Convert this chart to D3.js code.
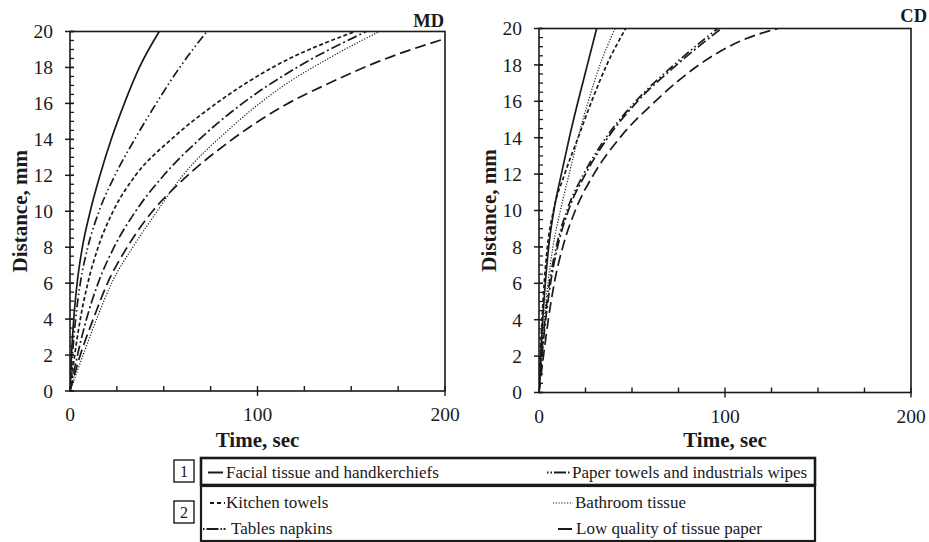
<!DOCTYPE html>
<html>
<head>
<meta charset="utf-8">
<script src="https://cdn.jsdelivr.net/npm/d3@7"></script>
<style>
  body { margin: 0; background: #fff; }
</style>
</head>
<body>
<svg id="chart" width="929" height="542"></svg>
<script>
// categories
const series = [
  "Facial tissue and handkerchiefs",
  "Paper towels and industrials wipes",
  "Kitchen towels",
  "Bathroom tissue",
  "Tables napkins",
  "Low quality of tissue paper"
]

// [time sec, distance mm]
const mdFacial = [[0,0],[0.8,2],[2.0,4],[3.8,6],[6.6,8],[10.8,10],[16,12],[22,14],[29,16],[37,18],[47.6,20]]
const mdPaper = [[0,0],[1.3,2],[3,4],[5.5,6],[9.5,8],[15.5,10],[24,12],[34.5,14],[46,16],[58.5,18],[73,20]]
const mdKitchen = [[0,0],[2.5,2],[5.5,4],[9.5,6],[15,8],[23,10],[35,12],[54,14],[78,16],[108,18],[152,20]]
const mdBath = [[0,0],[7,2],[14.2,4],[22.2,6],[33.5,8],[46.5,10],[58.7,11.8],[85.3,14.6],[112,16.85],[138.7,18.55],[165,20]]
const mdTables = [[0,0],[4,2],[8.8,4],[15,6],[23.5,8],[35,10],[50,12],[69,14],[92,16],[121,18],[158,20]]
const mdLow = [[0,0],[5.5,2],[12.4,4],[20,6],[30.5,8],[44,10],[58.7,11.6],[85.3,13.9],[112,15.75],[138.7,17.15],[165,18.35],[200,19.6]]

// [time sec, distance mm]
const cdFacial = [[0,0],[0.9,2],[2,4],[3.4,6],[5.2,8],[8,10],[12,12],[16.3,14],[21,16],[26,18],[31,20]]
const cdPaper = [[0,0],[1.4,2],[3.2,4],[5.6,6],[9.3,8],[15,10],[24,12],[36,14],[52,16],[72.5,18],[96,20]]
const cdKitchen = [[0,0],[0.7,2],[1.6,4],[2.8,6],[4.5,8],[7.8,10],[13.8,12],[21,14],[28.3,16],[36.4,18],[46.6,20]]
const cdBath = [[0,0],[1.2,2],[2.8,4],[4.8,6],[7.5,8],[11.5,10],[16.2,12],[21,14],[26.5,16],[32.8,18],[40.9,20]]
const cdTables = [[0,0],[1.6,2],[3.6,4],[6.2,6],[10,8],[15.8,10],[25,12],[37,14],[53,16],[74,18],[98,20]]
const cdLow = [[0,0],[2.4,2],[5,4],[8.2,6],[12.8,8],[19.5,10],[29.5,12],[43.5,14],[62.5,16],[86,18],[108,19.3],[128.5,20]]

// ticks
const xTickLabels = [0, 100, 200]
const xTicks = d3.range(0, 201, 25)
const yTickLabels = d3.range(0, 21, 2)
const yMinor = d3.range(0, 20.01, 0.5)

// line styles per series (same order as series)
const dashes = ["none", "9,3,1.5,3,1.5,3", "4,2.5", "1.2,1.6", "10,3,2,3", "11,5"]
const widths = [1.7, 1.7, 1.7, 1.2, 1.7, 1.7]
const legendDashes = ["none", "1.5,2,1.5,2,12,2,1.5", "4,3", "1.2,1.6", "1.5,2,12,2,1.5", "none"]

const serif = "'Liberation Serif'"
let svg = d3.select("#chart")
const ink = "#1a1a1a"

function label(sel, size, bold) {
  return sel.style("font-family", serif)
    .attr("font-size", size)
    .attr("font-weight", bold ? "bold" : "normal")
    .attr("fill", ink)
}

let panels = [
  { name: "MD", data: [mdFacial, mdPaper, mdKitchen, mdBath, mdTables, mdLow],
    x: [70, 445], y: [391, 31.5], tag: [444, 27] },
  { name: "CD", data: [cdFacial, cdPaper, cdKitchen, cdBath, cdTables, cdLow],
    x: [539, 911], y: [392.5, 28.5], tag: [927, 22] }
]

panels.forEach((p, pi) => {
  let x = d3.scaleLinear().domain([0, 200]).range(p.x)
  let y = d3.scaleLinear().domain([0, 20]).range(p.y)
  let g = svg.append("g")

  let clipId = "clip" + pi
  svg.append("clipPath").attr("id", clipId)
    .append("rect")
    .attr("x", p.x[0]).attr("y", p.y[1])
    .attr("width", p.x[1] - p.x[0]).attr("height", p.y[0] - p.y[1])

  let line = d3.line()
    .x(d => x(d[0]))
    .y(d => y(d[1]))
    .curve(d3.curveMonotoneX)

  g.append("g").attr("clip-path", `url(#${clipId})`)
    .selectAll("path")
    .data(p.data)
    .enter()
    .append("path")
    .attr("d", line)
    .attr("fill", "none")
    .attr("stroke", ink)
    .attr("stroke-width", (d, i) => widths[i])
    .attr("stroke-dasharray", (d, i) => dashes[i])

  // frame
  g.append("rect")
    .attr("x", p.x[0]).attr("y", p.y[1])
    .attr("width", p.x[1] - p.x[0]).attr("height", p.y[0] - p.y[1])
    .attr("fill", "none").attr("stroke", ink).attr("stroke-width", 1.6)

  // y ticks: minor inward, major crossing
  g.selectAll(".ymin").data(yMinor).enter().append("line")
    .attr("x1", p.x[0]).attr("x2", p.x[0] + 4)
    .attr("y1", d => y(d)).attr("y2", d => y(d))
    .attr("stroke", ink).attr("stroke-width", 1.3)
  g.selectAll(".ymaj").data(yTickLabels).enter().append("line")
    .attr("x1", p.x[0] - 5).attr("x2", p.x[0] + 4)
    .attr("y1", d => y(d)).attr("y2", d => y(d))
    .attr("stroke", ink).attr("stroke-width", 1.5)
  g.selectAll(".ylab").data(yTickLabels).enter().append("text")
    .attr("x", p.x[0] - 17).attr("y", d => y(d))
    .attr("dy", "0.35em")
    .attr("text-anchor", "end")
    .call(label, 19.5, false)
    .text(d => d)

  // x ticks
  g.selectAll(".xmin").data(xTicks).enter().append("line")
    .attr("x1", d => x(d)).attr("x2", d => x(d))
    .attr("y1", p.y[0] - 5)
    .attr("y2", d => xTickLabels.includes(d) && d > 0 ? p.y[0] + 5 : p.y[0])
    .attr("stroke", ink).attr("stroke-width", 1.4)
  g.selectAll(".xlab").data(xTickLabels).enter().append("text")
    .attr("x", d => x(d)).attr("y", p.y[0] + 30)
    .attr("text-anchor", "middle")
    .call(label, 19.5, false)
    .text(d => d)

  g.append("text")
    .attr("x", x(100)).attr("y", 447)
    .attr("text-anchor", "middle")
    .call(label, 21, true)
    .text("Time, sec")

  g.append("text")
    .attr("transform", `translate(${p.x[0] - 43},${y(10)}) rotate(-90)`)
    .attr("text-anchor", "middle")
    .call(label, 21, true)
    .text("Distance, mm")

  g.append("text")
    .attr("x", p.tag[0]).attr("y", p.tag[1])
    .attr("text-anchor", "end")
    .call(label, 18.5, true)
    .text(p.name)
})

// legend
let lg = svg.append("g")
lg.append("rect").attr("x", 201).attr("y", 458).attr("width", 614).attr("height", 27)
  .attr("fill", "none").attr("stroke", ink).attr("stroke-width", 2.6)
lg.append("rect").attr("x", 201).attr("y", 486).attr("width", 614).attr("height", 55)
  .attr("fill", "none").attr("stroke", ink).attr("stroke-width", 2.2)

const groupLabels = ["1", "2"]
lg.selectAll(".gbox").data(groupLabels).enter().append("rect")
  .attr("x", 174).attr("y", (d, i) => i ? 501 : 460)
  .attr("width", 20).attr("height", 22)
  .attr("fill", "#fff").attr("stroke", ink).attr("stroke-width", 1.4)
lg.selectAll(".gtxt").data(groupLabels).enter().append("text")
  .attr("x", 184).attr("y", (d, i) => (i ? 501 : 460) + 17)
  .attr("text-anchor", "middle")
  .call(label, 16, false)
  .text(d => d)

// legend rows: column x, baseline y, symbol start/end
const legendPos = [
  { x: 226, y: 477.5, s: [208, 223] },
  { x: 572, y: 477.5, s: [547, 570] },
  { x: 226, y: 508, s: [210, 225] },
  { x: 575, y: 508, s: [553, 573] },
  { x: 231, y: 534, s: [203, 229] },
  { x: 576, y: 534, s: [558, 572] }
]
let items = lg.selectAll(".item").data(series).enter().append("g")
items.append("line")
  .attr("x1", (d, i) => legendPos[i].s[0]).attr("x2", (d, i) => legendPos[i].s[1])
  .attr("y1", (d, i) => legendPos[i].y - 5).attr("y2", (d, i) => legendPos[i].y - 5)
  .attr("stroke", ink)
  .attr("stroke-width", (d, i) => i === 3 ? 1.2 : 2)
  .attr("stroke-dasharray", (d, i) => legendDashes[i])
items.append("text")
  .attr("x", (d, i) => legendPos[i].x).attr("y", (d, i) => legendPos[i].y)
  .call(label, 17, false)
  .text(d => d)
</script>
</body>
</html>
